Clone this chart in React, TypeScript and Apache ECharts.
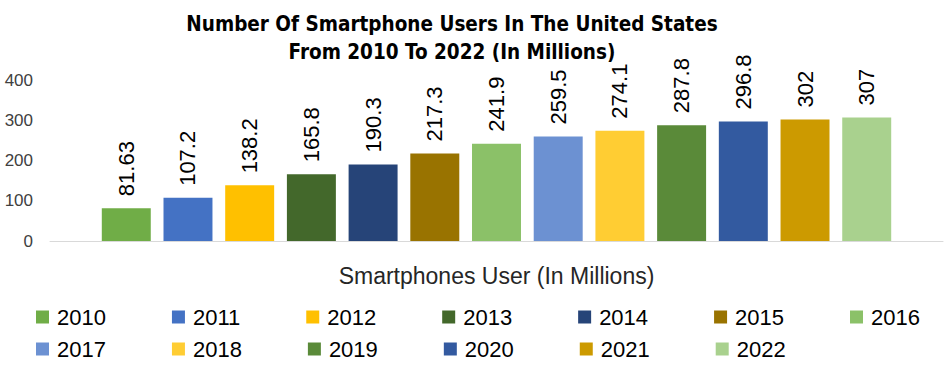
import React, { useEffect, useRef } from "react";
import * as echarts from "echarts";

const years = ["2010","2011","2012","2013","2014","2015","2016","2017","2018","2019","2020","2021","2022"];
const users = [81.63, 107.2, 138.2, 165.8, 190.3, 217.3, 241.9, 259.5, 274.1, 287.8, 296.8, 302, 307];
const colors = ["#70AD47","#4472C4","#FFC000","#43682B","#264478","#997300","#8BC168","#6C91D2","#FFCD33","#5A8A39","#335AA0","#CC9A00","#A9D18E"];
const yTicks = [0, 100, 200, 300, 400];
const legendRow1 = years.slice(0, 7);
const legendRow2 = years.slice(7);

export default function App() {
  const ref = useRef<HTMLDivElement>(null);
  useEffect(() => {
    const chart = echarts.init(ref.current!, null, { renderer: "svg" });
    const legendBase = {
      left: 31,
      orient: "horizontal",
      itemWidth: 13,
      itemHeight: 13,
      itemGap: 66,
      icon: "rect",
      textStyle: { fontFamily: "Liberation Sans", fontSize: 22, color: "#000", padding: [0, 0, 0, 3] },
    };
    chart.setOption({
      animation: false,
      title: {
        text: "Number Of Smartphone Users In The United States\nFrom 2010 To 2022 (In Millions)",
        left: 447,
        textAlign: "center",
        top: 5,
        textStyle: { fontFamily: "'DejaVu Sans Condensed', 'Liberation Sans Narrow', Roboto, sans-serif", fontWeight: "bold", fontSize: 20.5, lineHeight: 28, color: "#000" },
      },
      legend: [
        { ...legendBase, top: 301, data: legendRow1 },
        { ...legendBase, top: 333, data: legendRow2 },
      ],
      grid: { left: 50, right: 1, top: 80, bottom: 124, containLabel: false },
      xAxis: {
        type: "category",
        data: [""],
        axisLine: { lineStyle: { color: "#D9D9D9" } },
        axisTick: { show: false },
        axisLabel: { show: false },
        name: "Smartphones User (In Millions)",
        nameLocation: "middle",
        nameGap: 23,
        nameTextStyle: { fontFamily: "Liberation Sans", fontSize: 23, color: "#262626" },
      },
      yAxis: {
        type: "value",
        min: yTicks[0],
        max: yTicks[yTicks.length - 1],
        interval: 100,
        splitLine: { show: false },
        axisLine: { show: false },
        axisTick: { show: false },
        axisLabel: { fontFamily: "Liberation Sans", fontSize: 17, color: "#404040", margin: 17 },
      },
      series: years.map((y, i) => ({
        name: y,
        type: "bar",
        data: [users[i]],
        barGap: "26%",
        barCategoryGap: "11.6%",
        itemStyle: { color: colors[i] },
        label: {
          show: true,
          position: "top",
          rotate: 90,
          align: "left",
          verticalAlign: "middle",
          distance: 12,
          fontFamily: "Liberation Sans",
          fontSize: 22,
          color: "#000",
        },
      })),
    });
    return () => chart.dispose();
  }, []);
  return <div ref={ref} style={{ position: "absolute", left: 0, top: 0, width: 944, height: 365 }} />;
}
